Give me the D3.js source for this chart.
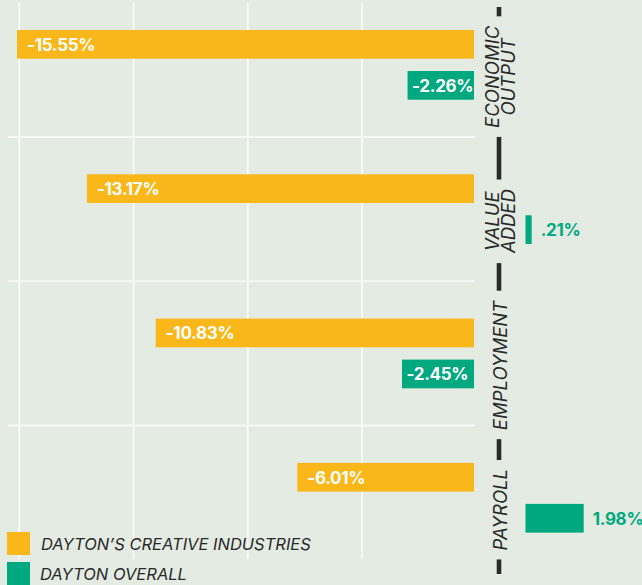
<!DOCTYPE html>
<html><head><meta charset="utf-8">
<script src="https://cdn.jsdelivr.net/npm/d3@7"></script>
<style>
html,body{margin:0;padding:0;background:#e4ebe3;}
svg{display:block;}
text{font-family:Inter,"Open Sans",sans-serif;}
</style></head>
<body>
<svg id="chart" width="642" height="585"></svg>
<script>
// ---- data ----
const categories = ["ECONOMIC OUTPUT", "VALUE ADDED", "EMPLOYMENT", "PAYROLL"];
const categoryLines = [["ECONOMIC", "OUTPUT"], ["VALUE", "ADDED"], ["EMPLOYMENT"], ["PAYROLL"]];
const series = ["DAYTON’S CREATIVE INDUSTRIES", "DAYTON OVERALL"];
const creative = [-15.55, -13.17, -10.83, -6.01];
const overall = [-2.26, 0.21, -2.45, 1.98];
const creativeLabels = ["-15.55%", "-13.17%", "-10.83%", "-6.01%"];
const overallLabels = ["-2.26%", ".21%", "-2.45%", "1.98%"];
const colors = ["#f9b719", "#00a87f"];

const svg = d3.select("#chart");
const W = 642, H = 585;
svg.append("rect").attr("width", W).attr("height", H).attr("fill", "#e4ebe3");

const minVal = d3.min(creative.concat(overall));
const maxVal = d3.max(creative.concat(overall));
const xNeg = d3.scaleLinear().domain([minVal, 0]).range([17, 474]);
const k = (474 - 17) / (0 - minVal);
const xPos = d3.scaleLinear().domain([0, maxVal]).range([525.5, 525.5 + k * maxVal]);
const xv = v => v < 0 ? xNeg(v) : xPos(v);
const x0 = v => v < 0 ? xNeg(0) : xPos(0);

const y = d3.scaleBand().domain(categories).range([-7.3, -7.3 + 4 * 144.3]);
const inner = d3.scaleBand().domain(series)
  .range([y.bandwidth() / 2 - 34.85, y.bandwidth() / 2 + 34.85]).paddingInner(0.3);

// gridlines
const grid = svg.append("g");
const vTicks = d3.range(4).map(i => minVal * (1 - i / 4));
grid.selectAll("line.v").data(vTicks).join("line")
  .attr("x1", d => xNeg(d) + 2.3).attr("x2", d => xNeg(d) + 2.3)
  .attr("y1", 3).attr("y2", 559)
  .attr("stroke", "#ffffff").attr("stroke-width", 1.4);
grid.selectAll("line.h").data(categories.slice(1)).join("line")
  .attr("x1", 8).attr("x2", 475)
  .attr("y1", d => y(d)).attr("y2", d => y(d))
  .attr("stroke", "#f7f7f5").attr("stroke-width", 2);

// bars
const rows = categories.map((c, i) => ({c, i}));
const g = svg.append("g");
[creative, overall].forEach((vals, s) => {
  const labs = s === 0 ? creativeLabels : overallLabels;
  const data = rows.map(r => ({c: r.c, v: vals[r.i], lab: labs[r.i]}));
  g.selectAll(null).data(data).join("rect")
    .attr("x", d => Math.min(xv(d.v), x0(d.v)))
    .attr("width", d => Math.abs(xv(d.v) - x0(d.v)))
    .attr("y", d => y(d.c) + inner(series[s]))
    .attr("height", inner.bandwidth())
    .attr("fill", colors[s]);
  g.selectAll(null).data(data).join("text")
    .attr("x", d => d.v < 0 ? xv(d.v) + (s === 0 ? 10 : 4.5) : xv(d.v) + 9)
    .attr("y", d => y(d.c) + inner(series[s]) + inner.bandwidth() / 2 + 6.3)
    .attr("fill", d => d.v < 0 ? "#ffffff" : colors[s])
    .attr("font-weight", 700).attr("font-size", 17)
    .attr("letter-spacing", -0.3)
    .text(d => d.lab);
});

// category axis labels
const axX = 499;
const labG = svg.append("g");
const labelGroups = categories.map((c, i) => {
  const lg = labG.append("g")
    .attr("transform", `translate(${axX},${y(c) + y.bandwidth() / 2 + 12}) rotate(-90)`);
  const lines = categoryLines[i];
  lines.forEach((ln, j) => {
    lg.append("text")
      .attr("x", 0).attr("y", 8 + (j - (lines.length - 1) / 2) * 16.5)
      .attr("text-anchor", "middle")
      .attr("font-style", "italic").attr("font-size", 18.5)
      .attr("fill", "#2a2a2a")
      .text(ln);
  });
  return lg;
});
// dashed axis segments between labels
const ext = labelGroups.map(lg => {
  const b = lg.node().getBoundingClientRect();
  return [b.top - 9, b.bottom + 9];
});
const segs = [];
let start = 7;
ext.forEach(e => { segs.push([start, e[0]]); start = e[1]; });
segs.push([start, 574]);
svg.append("g").selectAll("line").data(segs.filter(s => s[1] > s[0])).join("line")
  .attr("x1", axX).attr("x2", axX)
  .attr("y1", d => d[0]).attr("y2", d => d[1])
  .attr("stroke", "#2a2a2a").attr("stroke-width", 4.6);

// legend
const leg = svg.append("g");
series.forEach((s, i) => {
  leg.append("rect").attr("x", 7).attr("y", 532 + i * 30)
    .attr("width", 23).attr("height", 23).attr("fill", colors[i]);
  leg.append("text").attr("x", 41 - i).attr("y", 550 + i * 30)
    .attr("font-style", "italic").attr("font-size", 16.5)
    .attr("fill", "#2a2a2a").text(s);
});
</script>
</body></html>
